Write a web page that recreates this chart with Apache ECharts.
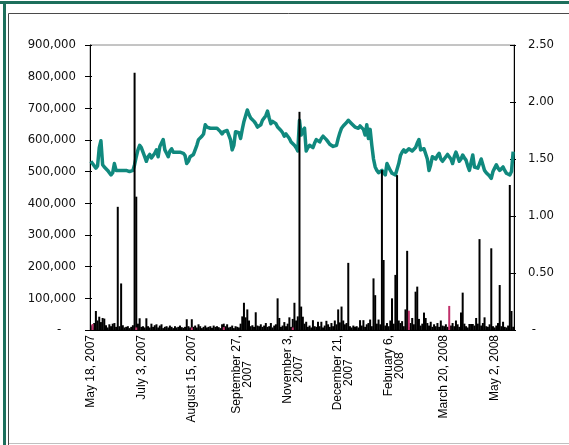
<!DOCTYPE html>
<html>
<head>
<meta charset="utf-8">
<script src="https://cdn.jsdelivr.net/npm/echarts@6/dist/echarts.min.js"></script>
<style>
html,body{margin:0;padding:0;background:#fff;}
#chart{width:569px;height:445px;}
</style>
</head>
<body>
<div id="chart"></div>
<script>
// Tick labels shown every 30 trading days
var tickLabels = ['May 18, 2007', 'July 3, 2007', 'August 15, 2007', 'September 27,\n2007', 'November 3,\n2007',
  'December 21,\n2007', 'February 6,\n2008', 'March 20, 2008', 'May 2, 2008'];
var tickStep = 30;

// Share price (right axis)
var price = [
  1.48,1.46,1.45,1.42,1.44,1.60,1.66,1.45,1.43,1.42,
  1.40,1.38,1.36,1.38,1.46,1.40,1.39,1.40,1.39,1.40,
  1.39,1.40,1.39,1.39,1.40,1.40,1.45,1.52,1.58,1.62,
  1.60,1.56,1.52,1.48,1.52,1.54,1.51,1.50,1.55,1.58,
  1.52,1.61,1.64,1.67,1.58,1.55,1.52,1.57,1.59,1.56,
  1.57,1.56,1.56,1.56,1.56,1.55,1.53,1.46,1.48,1.52,
  1.51,1.54,1.55,1.62,1.67,1.68,1.70,1.72,1.80,1.78,
  1.77,1.77,1.77,1.77,1.76,1.77,1.76,1.74,1.72,1.74,
  1.74,1.75,1.71,1.67,1.58,1.62,1.74,1.75,1.73,1.68,
  1.76,1.83,1.88,1.93,1.89,1.86,1.85,1.83,1.81,1.78,
  1.77,1.80,1.84,1.86,1.88,1.92,1.86,1.81,1.83,1.84,
  1.81,1.78,1.77,1.75,1.73,1.70,1.72,1.71,1.68,1.65,
  1.64,1.62,1.60,1.57,1.84,1.71,1.75,1.77,1.57,1.60,
  1.62,1.61,1.60,1.64,1.67,1.66,1.65,1.68,1.70,1.71,
  1.67,1.65,1.63,1.62,1.61,1.60,1.62,1.68,1.73,1.77,
  1.79,1.80,1.82,1.84,1.83,1.81,1.80,1.78,1.77,1.77,
  1.79,1.80,1.76,1.71,1.80,1.68,1.76,1.62,1.50,1.43,
  1.40,1.38,1.375,1.40,1.38,1.36,1.46,1.43,1.40,1.375,
  1.37,1.36,1.36,1.46,1.53,1.56,1.58,1.56,1.57,1.59,
  1.58,1.57,1.56,1.60,1.64,1.67,1.58,1.58,1.59,1.58,
  1.50,1.40,1.45,1.52,1.51,1.50,1.53,1.55,1.50,1.48,
  1.50,1.52,1.54,1.55,1.50,1.46,1.52,1.56,1.52,1.48,
  1.50,1.535,1.51,1.49,1.44,1.40,1.47,1.535,1.43,1.42,
  1.42,1.46,1.50,1.45,1.40,1.38,1.375,1.35,1.33,1.39,
  1.42,1.45,1.42,1.40,1.41,1.43,1.40,1.375,1.37,1.36,
  1.39,1.565
];

// Daily volume (left axis), black bars
var volume = [
  15000,8000,22000,60000,30000,42000,25000,38000,36000,15000,
  8000,18000,12000,20000,22000,10000,389000,12000,147000,15000,
  8000,10000,12000,6000,10000,15000,812000,421000,20000,37000,
  10000,12000,8000,37000,12000,8000,20000,10000,15000,18000,
  8000,14000,18000,6000,10000,12000,8000,14000,10000,6000,
  12000,8000,10000,14000,9000,7000,10000,34000,12000,8000,
  34000,10000,14000,8000,18000,12000,6000,10000,14000,8000,
  10000,12000,7000,14000,10000,12000,9000,6000,18000,20000,
  12000,18000,8000,10000,14000,6000,12000,10000,8000,20000,
  43000,86000,40000,65000,30000,12000,15000,10000,56000,14000,
  12000,18000,10000,14000,22000,10000,12000,22000,8000,14000,
  18000,100000,38000,10000,14000,25000,12000,20000,40000,10000,
  35000,86000,30000,43000,689000,74000,42000,20000,26000,10000,
  14000,8000,31000,12000,10000,26000,12000,26000,8000,14000,
  29000,18000,10000,22000,12000,30000,18000,65000,24000,74000,
  30000,18000,22000,212000,12000,8000,14000,10000,12000,8000,
  31000,14000,31000,10000,18000,22000,33000,12000,163000,110000,
  20000,33000,18000,505000,221000,14000,22000,12000,30000,100000,
  20000,174000,489000,30000,22000,28000,12000,65000,250000,10000,
  22000,38000,18000,121000,137000,35000,14000,20000,55000,38000,
  22000,14000,26000,10000,18000,12000,22000,10000,30000,14000,
  12000,18000,10000,8000,14000,22000,12000,30000,18000,10000,
  55000,118000,20000,12000,8000,19000,19000,19000,14000,38000,
  20000,287000,14000,22000,40000,12000,10000,18000,258000,12000,
  8000,14000,22000,142000,12000,26000,10000,8000,14000,458000,
  60000,10000
];

// Secondary volume (pink bars), index -> value
var pinkIndex = [1, 27, 60, 79, 120, 189, 213];
var pinkValue = [19000, 8000, 8000, 9000, 8000, 61000, 76000];

// Axis ticks
var leftTicks = [0, 100000, 200000, 300000, 400000, 500000, 600000, 700000, 800000, 900000];
var rightTicks = [0, 0.5, 1.0, 1.5, 2.0, 2.5];

var N = price.length;
var categories = [];
for (var i = 0; i < N; i++) {
  categories.push(i % tickStep === 0 ? tickLabels[i / tickStep] : ' ' + i);
}
var pink = [];
for (var j = 0; j < N; j++) pink.push(0);
for (var k = 0; k < pinkIndex.length; k++) pink[pinkIndex[k]] = pinkValue[k];

var chart = echarts.init(document.getElementById('chart'), null, {renderer: 'canvas'});
var yFont = {fontFamily: 'DejaVu Sans Condensed', fontSize: 13, color: '#111'};

function leftFmt(v) {
  if (v === 0) return '-\u00a0\u00a0\u00a0\u00a0';
  return v.toLocaleString('en-US');
}
function rightFmt(v) {
  if (v === 0) return '\u00a0-';
  return v.toFixed(2);
}

var option = {
  animation: false,
  backgroundColor: '#ffffff',
  grid: {left: 90, right: 55, top: 45, bottom: 115, show: true, borderColor: '#8a8a8a', borderWidth: 1, backgroundColor: 'transparent'},
  xAxis: {
    type: 'category',
    data: categories,
    boundaryGap: true,
    axisLine: {lineStyle: {color: '#000', width: 1}},
    axisTick: {show: false},
    axisLabel: {
      interval: tickStep - 1,
      rotate: 90,
      margin: 5,
      fontFamily: 'Liberation Sans',
      fontSize: 12,
      lineHeight: 11,
      color: '#000',
      formatter: function (v) {
        var parts = v.split('\n');
        if (parts.length === 2) return '{a|' + parts[0] + '}\n{b|' + parts[1] + '}';
        return '{a|' + v + '}';
      },
      rich: {
        a: {fontFamily: 'Liberation Sans', fontSize: 12, lineHeight: 11, color: '#000'},
        b: {fontFamily: 'Liberation Sans', fontSize: 12, lineHeight: 11, color: '#000', align: 'center'}
      }
    },
    splitLine: {show: false}
  },
  yAxis: [
    {
      type: 'value', position: 'left', min: leftTicks[0], max: leftTicks[leftTicks.length - 1], interval: leftTicks[1] - leftTicks[0],
      axisLine: {show: true, lineStyle: {color: '#000', width: 1}},
      axisTick: {show: true, inside: false, length: 5, lineStyle: {color: '#000'}},
      axisLabel: Object.assign({margin: 14, formatter: leftFmt}, yFont),
      splitLine: {show: false}
    },
    {
      type: 'value', position: 'right', min: rightTicks[0], max: rightTicks[rightTicks.length - 1], interval: rightTicks[1] - rightTicks[0],
      axisLine: {show: true, lineStyle: {color: '#000', width: 1}},
      axisTick: {show: true, inside: false, length: 2, lineStyle: {color: '#000'}},
      axisLabel: Object.assign({margin: 14, formatter: rightFmt}, yFont),
      splitLine: {show: false}
    },
    {
      type: 'value', position: 'left', min: leftTicks[0], max: leftTicks[leftTicks.length - 1], interval: leftTicks[1] - leftTicks[0],
      axisLine: {show: false}, axisLabel: {show: false}, splitLine: {show: false},
      axisTick: {show: true, inside: true, length: 2, lineStyle: {color: '#000'}}
    },
    {
      type: 'value', position: 'right', min: rightTicks[0], max: rightTicks[rightTicks.length - 1], interval: rightTicks[1] - rightTicks[0],
      axisLine: {show: false}, axisLabel: {show: false}, splitLine: {show: false},
      axisTick: {show: true, inside: true, length: 4, lineStyle: {color: '#000'}}
    }
  ],
  series: [
    {
      name: 'Price', type: 'line', yAxisIndex: 1, data: price, z: 1,
      symbol: 'none', smooth: false,
      lineStyle: {color: '#10897e', width: 3.5, join: 'round'},
      itemStyle: {color: '#10897e'}
    },
    {
      name: 'Volume', type: 'bar', yAxisIndex: 0, data: volume, z: 3,
      barWidth: 2, barGap: '-100%',
      itemStyle: {color: '#000'}
    },
    {
      name: 'Other', type: 'bar', yAxisIndex: 0, data: pink, z: 4,
      barWidth: 2, barGap: '-100%',
      itemStyle: {color: '#c0306a'}
    }
  ],
  graphic: [
    {type: 'rect', shape: {x: 0, y: 1, width: 569, height: 3}, style: {fill: '#1d6f5c'}, z: 100},
    {type: 'rect', shape: {x: 3, y: 1, width: 3, height: 444}, style: {fill: '#1d6f5c'}, z: 100},
    {type: 'line', shape: {x1: 8.5, y1: 13.5, x2: 569, y2: 13.5}, style: {stroke: '#4a4a4a', lineWidth: 1}, z: 100},
    {type: 'line', shape: {x1: 8.5, y1: 13.5, x2: 8.5, y2: 445}, style: {stroke: '#4a4a4a', lineWidth: 1}, z: 100},
    {type: 'line', shape: {x1: 9, y1: 443.5, x2: 569, y2: 443.5}, style: {stroke: '#c0c0c0', lineWidth: 1}, z: 100}
  ]
};
chart.setOption(option);
</script>
</body>
</html>
